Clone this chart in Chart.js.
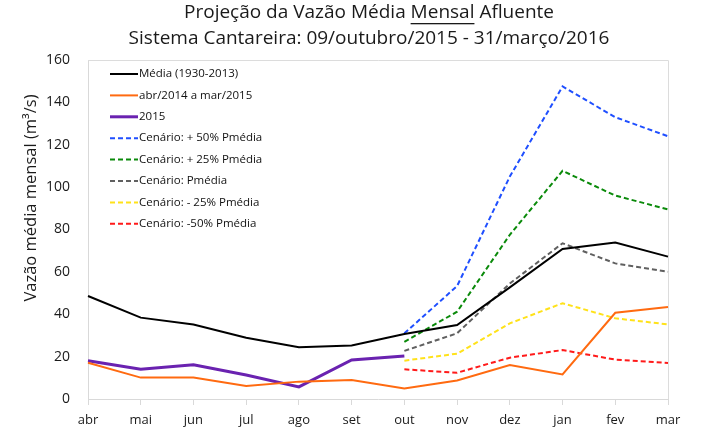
<!DOCTYPE html>
<html><head><meta charset="utf-8">
<script src="https://cdn.jsdelivr.net/npm/chart.js@4.4.0/dist/chart.umd.min.js"></script>
<style>html,body{margin:0;padding:0;background:#fff}#wrap{width:709px;height:438px}</style>
</head><body><div id="wrap"><canvas id="c" width="709" height="438"></canvas></div>
<script>
const categories = ['abr','mai','jun','jul','ago','set','out','nov','dez','jan','fev','mar'];
const yTicks = [0,20,40,60,80,100,120,140,160];
const mediaHist  = [48.6, 38.4, 35.2, 28.9, 24.4, 25.3, 30.7, 34.9, 52.7, 70.8, 73.9, 67.2];
const abr14mar15 = [17.1, 10.1, 10.1, 6.1, 8.2, 9.0, 5.0, 8.7, 16.0, 11.6, 40.7, 43.4];
const ano2015    = [18.1, 14.0, 16.2, 11.3, 5.7, 18.4, 20.3, null, null, null, null, null];
const cen50mais  = [null, null, null, null, null, null, 31.0, 53.3, 105.0, 147.5, 133.0, 124.0];
const cen25mais  = [null, null, null, null, null, null, 27.0, 41.2, 77.5, 107.7, 96.0, 89.5];
const cenMedia   = [null, null, null, null, null, null, 22.7, 31.0, 54.5, 73.5, 64.0, 60.0];
const cen25menos = [null, null, null, null, null, null, 18.1, 21.4, 35.7, 45.2, 38.1, 35.2];
const cen50menos = [null, null, null, null, null, null, 14.0, 12.4, 19.5, 23.1, 18.6, 17.0];
const seriesLabels = ['Média (1930-2013)','abr/2014 a mar/2015','2015','Cenário: + 50% Pmédia','Cenário: + 25% Pmédia','Cenário: Pmédia','Cenário: - 25% Pmédia','Cenário: -50% Pmédia'];
const titleLines = ['Projeção da Vazão Média Mensal Afluente','Sistema Cantareira: 09/outubro/2015 - 31/março/2016'];
const yTitle = 'Vazão média mensal (m³/s)';

const FONT = '"Open Sans", sans-serif';
function ds(label, data, color, width, dashed){
  return {label, data, borderColor: color, backgroundColor: color, borderWidth: width,
    borderDash: dashed ? [5,3] : [], pointRadius: 0, tension: 0, spanGaps: false, fill: false};
}
const datasets = [
  ds(seriesLabels[0], mediaHist, '#000000', 2, false),
  ds(seriesLabels[1], abr14mar15, '#ff6a10', 2, false),
  ds(seriesLabels[2], ano2015, '#6a22b0', 3, false),
  ds(seriesLabels[3], cen50mais, '#1f4fff', 2, true),
  ds(seriesLabels[4], cen25mais, '#0a8a0a', 2, true),
  ds(seriesLabels[5], cenMedia, '#606060', 2, true),
  ds(seriesLabels[6], cen25menos, '#ffe21a', 2, true),
  ds(seriesLabels[7], cen50menos, '#ff1a1a', 2, true),
];

const decor = {
  id: 'decor',
  beforeDatasetsDraw(chart){
    const {ctx, chartArea:a} = chart;
    ctx.save();
    ctx.strokeStyle = '#dcdcdc'; ctx.lineWidth = 1;
    ctx.beginPath();
    ctx.moveTo(a.left, a.top + 0.5); ctx.lineTo(a.right + 0.5, a.top + 0.5);
    ctx.lineTo(a.right + 0.5, a.bottom);
    ctx.stroke();
    ctx.restore();
  },
  afterDraw(chart){
    const {ctx, chartArea:a} = chart;
    ctx.save();
    // titles
    ctx.fillStyle = '#1a1a1a';
    ctx.font = '19px ' + FONT;
    ctx.textAlign = 'left'; ctx.textBaseline = 'middle';
    const cx = 369;
    const parts = ['Projeção da Vazão Média ','Mensal',' Afluente'];
    const wTot = parts.reduce((s,p)=>s+ctx.measureText(p).width,0);
    let x = cx - wTot/2; const y1 = 13;
    parts.forEach((p,i)=>{
      ctx.fillText(p, x, y1);
      const w = ctx.measureText(p).width;
      if(i===1){ ctx.fillRect(x, y1+10, w, 1.3); }
      x += w;
    });
    ctx.textAlign = 'center';
    ctx.fillText(titleLines[1], cx, 39);
    // y title
    ctx.save();
    ctx.translate(31, 198);
    ctx.rotate(-Math.PI/2);
    ctx.font = '16.5px ' + FONT;
    ctx.fillText(yTitle, 0, 0);
    ctx.restore();
    // legend
    ctx.font = '11.5px ' + FONT;
    ctx.textAlign = 'left'; ctx.textBaseline = 'middle';
    chart.data.datasets.forEach((d,i)=>{
      const ly = 74 + i*21.4;
      ctx.strokeStyle = d.borderColor;
      ctx.lineWidth = d.borderWidth;
      ctx.setLineDash(d.borderDash || []);
      ctx.beginPath(); ctx.moveTo(110, ly); ctx.lineTo(138, ly); ctx.stroke();
      ctx.setLineDash([]);
      ctx.fillStyle = '#111111';
      ctx.fillText(d.label, 139, ly);
    });
    ctx.restore();
  }
};

new Chart(document.getElementById('c'), {
  type: 'line',
  data: {labels: categories, datasets},
  options: {
    responsive: false, animation: false, devicePixelRatio: 1,
    layout: {padding: {top: 60, right: 41, left: 0, bottom: 0}},
    plugins: {legend: {display: false}, title: {display: false}, tooltip: {enabled: false}},
    scales: {
      x: {
        offset: false,
        grid: {display: true, drawOnChartArea: false, drawTicks: true, tickLength: 6, color: '#d9d9d9'},
        border: {display: true, color: '#d9d9d9'},
        ticks: {color: '#1a1a1a', font: {family: FONT, size: 13}, padding: 7, maxRotation: 0, autoSkip: false},
        afterFit(s){ s.height = 39; }
      },
      y: {
        min: 0, max: 160,
        afterBuildTicks(s){ s.ticks = yTicks.map(v=>({value:v})); },
        grid: {display: false},
        border: {display: true, color: '#d9d9d9'},
        ticks: {color: '#1a1a1a', font: {family: FONT, size: 14}, padding: 10},
        afterFit(s){ s.width = 88; }
      }
    }
  },
  plugins: [decor]
});
</script></body></html>
